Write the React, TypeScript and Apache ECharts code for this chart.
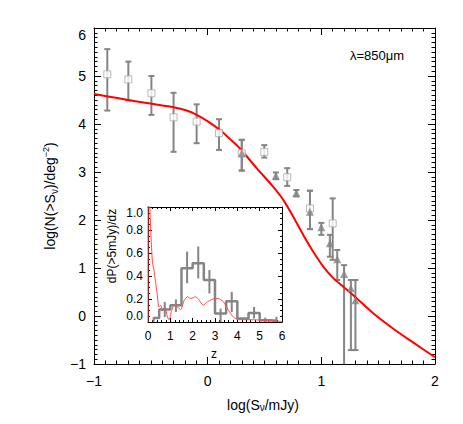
import React, { useEffect, useRef } from "react";
import * as echarts from "echarts";

// Main panel: model curve (red)
const curveX = [-1, -0.89, -0.7, -0.49, -0.3, -0.185, -0.097, 0.005, 0.108, 0.2, 0.284, 0.431, 0.577, 0.665, 0.753, 0.841, 0.929, 1.017, 1.105, 1.193, 1.31, 1.456, 1.63, 1.81, 2.0];
const curveY = [4.625, 4.58, 4.5, 4.42, 4.35, 4.28, 4.19, 4.05, 3.875, 3.68, 3.49, 3.08, 2.69, 2.42, 2.07, 1.69, 1.34, 1.03, 0.79, 0.61, 0.37, 0.056, -0.26, -0.556, -0.86];

// Open squares with error bars
const sqX = [-0.883, -0.698, -0.495, -0.3, -0.097, 0.1, 0.3, 0.498, 0.7, 0.9, 1.1];
const sqY = [5.035, 4.93, 4.64, 4.14, 4.05, 3.81, 3.39, 3.42, 2.89, 2.24, 1.93];
const sqLo = [4.28, 4.49, 4.19, 3.42, 3.6, 3.46, 3.03, 3.3, 2.71, 1.81, 1.17];
const sqHi = [5.56, 5.3, 5.0, 4.65, 4.41, 4.1, 3.67, 3.56, 3.08, 2.61, 2.45];

// Filled triangles with error bars
const triX = [0.3, 0.6, 0.78, 0.9, 1.0, 1.075, 1.14, 1.2, 1.26, 1.3];
const triY = [3.39, 2.92, 2.56, 2.17, 1.85, 1.515, 1.18, 0.875, 0.58, 0.33];
const triLo = [3.03, 2.85, 2.49, 1.81, 1.69, 1.235, 0.75, -1.5, -0.71, -0.71];
const triHi = [3.67, 2.99, 2.625, 2.61, 1.94, 1.69, 1.375, 1.06, 0.75, 0.75];

// Inset: redshift histogram
const histZ = [0.25, 0.75, 1.25, 1.75, 2.25, 2.75, 3.25, 3.75, 4.25, 4.75, 5.25, 5.75];
const histV = [0.035, 0.108, 0.146, 0.467, 0.51, 0.365, 0.073, 0.18, 0.03, 0.079, 0.015, 0.01];
const histLo = [0, 0.044, 0.087, 0.336, 0.379, 0.248, 0, 0.087, 0.03, 0.03, 0, 0];
const histHi = [0.04, 0.175, 0.196, 0.612, 0.656, 0.452, 0.117, 0.262, 0.03, 0.131, 0.038, 0.045];

// Inset: model dP/dz (thin red)
const redZ = [0, 0.01, 0.08, 0.14, 0.2, 0.27, 0.33, 0.39, 0.49, 0.57, 0.64, 0.75, 0.87, 0.94, 1.06, 1.16, 1.32, 1.47, 1.62, 1.77, 1.91, 2.14, 2.29, 2.47, 2.66, 2.88, 3.15, 3.38, 3.6, 3.82, 4.05, 4.64, 5.54, 6.0];
const redV = [0, 1.3, 1.0, 0.72, 0.52, 0.45, 0.36, 0.277, 0.13, 0.146, 0.1, 0.13, 0.044, 0.02, 0.1, 0.146, 0.13, 0.108, 0.19, 0.219, 0.204, 0.219, 0.19, 0.146, 0.175, 0.197, 0.204, 0.175, 0.102, 0.044, 0.02, 0.02, 0.01, 0.005];

const FONT = "'Liberation Sans', Arial, sans-serif";
const GRAY = "#858585";

const minusFmt = (v: number) => (v < 0 ? "\u2212" + Math.abs(v) : String(v));

function axisBase(opts: any) {
  return {
    type: "value",
    splitLine: { show: false },
    axisLine: { show: true, onZero: false, lineStyle: { color: "#000", width: 1 } },
    axisTick: { show: true, inside: true, length: opts.major, lineStyle: { color: "#000" } },
    minorTick: { show: true, splitNumber: opts.minor, length: opts.minorLen, lineStyle: { color: "#000" } },
    ...opts.extra,
  };
}

export default function App() {
  const ref = useRef<HTMLDivElement>(null);
  useEffect(() => {
    document.body.style.margin = "0";
    const chart = echarts.init(ref.current!, null, { renderer: "svg" });

    const errRender = (caps: number, color: string, width: number) => (params: any, api: any) => {
      const x = api.value(0);
      const p1 = api.coord([x, api.value(1)]);
      const p2 = api.coord([x, api.value(2)]);
      const style = { stroke: color, lineWidth: width };
      const children: any[] = [
        { type: "line", shape: { x1: p1[0], y1: p1[1], x2: p2[0], y2: p2[1] }, style },
      ];
      if (caps > 0) {
        children.push({ type: "line", shape: { x1: p1[0] - caps, y1: p1[1], x2: p1[0] + caps, y2: p1[1] }, style });
        children.push({ type: "line", shape: { x1: p2[0] - caps, y1: p2[1], x2: p2[0] + caps, y2: p2[1] }, style });
      }
      return { type: "group", children };
    };

    const mainLabel = { color: "#000", fontSize: 14, fontFamily: FONT, formatter: minusFmt };
    const insetLabel = { color: "#000", fontSize: 12, fontFamily: FONT };

    const option: any = {
      animation: false,
      backgroundColor: "#fff",
      textStyle: { fontFamily: FONT },
      grid: [
        { left: 94, top: 28, width: 341, height: 336, show: false },
        { left: 148, top: 207, width: 134, height: 115, show: true, backgroundColor: "#fff", borderWidth: 0, z: 5 },
      ],
      xAxis: [
        axisBase({ major: 7, minor: 10, minorLen: 3.5, extra: { gridIndex: 0, position: "bottom", min: -1, max: 2, interval: 1, axisLabel: { ...mainLabel, margin: 10 } } }),
        axisBase({ major: 7, minor: 10, minorLen: 3.5, extra: { gridIndex: 0, position: "top", min: -1, max: 2, interval: 1, axisLabel: { show: false } } }),
        axisBase({ major: 4, minor: 5, minorLen: 2, extra: { gridIndex: 1, position: "bottom", min: 0, max: 6, interval: 1, axisLabel: { ...insetLabel, margin: 8 }, z: 6 } }),
        axisBase({ major: 4, minor: 5, minorLen: 2, extra: { gridIndex: 1, position: "top", min: 0, max: 6, interval: 1, axisLabel: { show: false }, z: 6 } }),
      ],
      yAxis: [
        axisBase({ major: 7, minor: 10, minorLen: 3.5, extra: { gridIndex: 0, position: "left", min: -1, max: 6, interval: 1, axisLabel: { ...mainLabel, margin: 8, verticalAlignMaxLabel: "top" } } }),
        axisBase({ major: 7, minor: 10, minorLen: 3.5, extra: { gridIndex: 0, position: "right", min: -1, max: 6, interval: 1, axisLabel: { show: false } } }),
        axisBase({ major: 4, minor: 4, minorLen: 2, extra: { gridIndex: 1, position: "left", min: 0, max: 1, interval: 0.2, axisLabel: { ...insetLabel, margin: 5, formatter: (v: number) => v.toFixed(1), verticalAlignMaxLabel: "top", verticalAlignMinLabel: "bottom" }, z: 6 } }),
        axisBase({ major: 4, minor: 4, minorLen: 2, extra: { gridIndex: 1, position: "right", min: 0, max: 1, interval: 0.2, axisLabel: { show: false }, z: 6 } }),
      ],
      series: [
        {
          type: "custom",
          xAxisIndex: 0,
          yAxisIndex: 0,
          clip: true,
          renderItem: errRender(3, GRAY, 2),
          data: sqX.map((x, i) => [x, sqLo[i], sqHi[i]]),
          z: 2,
        },
        {
          type: "custom",
          xAxisIndex: 0,
          yAxisIndex: 0,
          clip: true,
          renderItem: errRender(3, GRAY, 2),
          data: triX.map((x, i) => [x, triLo[i], triHi[i]]),
          z: 2,
        },
        {
          type: "line",
          xAxisIndex: 0,
          yAxisIndex: 0,
          data: curveX.map((x, i) => [x, curveY[i]]),
          showSymbol: false,
          smooth: 0.3,
          lineStyle: { color: "#ff0000", width: 2 },
          clip: true,
          z: 3,
        },
        {
          type: "scatter",
          xAxisIndex: 0,
          yAxisIndex: 0,
          data: sqX.map((x, i) => [x, sqY[i]]),
          symbol: "rect",
          symbolSize: 7,
          itemStyle: { color: "#fff", borderColor: "#a8a8a8", borderWidth: 1 },
          z: 4,
        },
        {
          type: "scatter",
          xAxisIndex: 0,
          yAxisIndex: 0,
          data: triX.map((x, i) => [x, triY[i]]),
          symbol: "triangle",
          symbolSize: 8,
          itemStyle: { color: GRAY },
          z: 4,
        },
        {
          type: "line",
          xAxisIndex: 2,
          yAxisIndex: 2,
          data: histZ.map((z, i) => [z, histV[i]]),
          step: "middle",
          showSymbol: false,
          lineStyle: { color: GRAY, width: 2.5 },
          clip: true,
          z: 7,
        },
        {
          type: "custom",
          xAxisIndex: 2,
          yAxisIndex: 2,
          clip: true,
          renderItem: errRender(0, GRAY, 2),
          data: histZ.map((z, i) => [z, histLo[i], histHi[i]]),
          z: 7,
        },
        {
          type: "line",
          xAxisIndex: 2,
          yAxisIndex: 2,
          data: redZ.map((z, i) => [z, redV[i]]),
          showSymbol: false,
          smooth: 0.2,
          lineStyle: { color: "#ff4a4a", width: 1 },
          clip: true,
          z: 8,
        },
      ],
      graphic: [
        {
          type: "text",
          x: 263,
          y: 405,
          style: {
            text: "log(S{sub|\u03BD}/mJy)",
            fill: "#000",
            font: `14px ${FONT}`,
            align: "center",
            verticalAlign: "middle",
            rich: { sub: { fontSize: 10, fontFamily: FONT, verticalAlign: "bottom", lineHeight: 8, padding: [8, 0, 0, 0] } },
          },
        },
        {
          type: "text",
          x: 50,
          y: 196,
          rotation: Math.PI / 2,
          style: {
            text: "log(N(>S{sub|\u03BD})/deg{sup|\u22122})",
            fill: "#000",
            font: `14px ${FONT}`,
            align: "center",
            verticalAlign: "middle",
            rich: {
              sub: { fontSize: 10, fontFamily: FONT, padding: [8, 0, 0, 0] },
              sup: { fontSize: 9, fontFamily: FONT, padding: [0, 0, 8, 0] },
            },
          },
        },
        {
          type: "text",
          x: 350,
          y: 55,
          style: { text: "\u03BB=850\u03BCm", fill: "#000", font: `13px ${FONT}`, align: "left", verticalAlign: "middle" },
        },
        {
          type: "text",
          x: 214,
          y: 354,
          style: { text: "z", fill: "#000", font: `12px ${FONT}`, align: "center", verticalAlign: "middle" },
        },
        {
          type: "text",
          x: 112,
          y: 246,
          rotation: Math.PI / 2,
          style: { text: "dP(>5mJy)/dz", fill: "#000", font: `12px ${FONT}`, align: "center", verticalAlign: "middle" },
        },
      ],
    };
    chart.setOption(option);
    return () => chart.dispose();
  }, []);
  return <div ref={ref} style={{ width: 463, height: 424 }} />;
}
